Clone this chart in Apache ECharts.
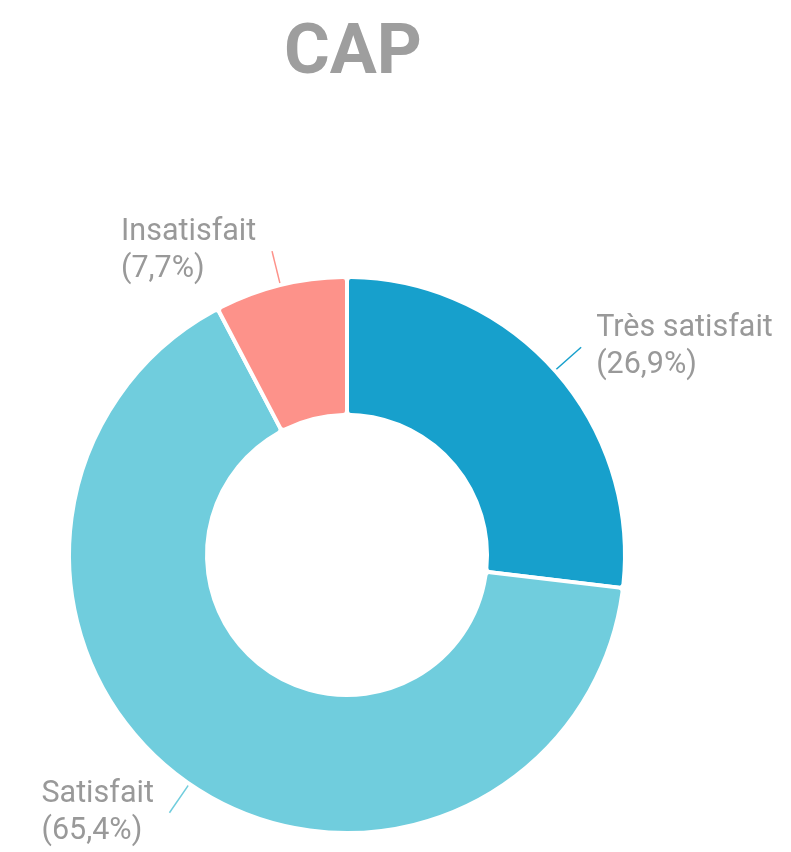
<!DOCTYPE html>
<html lang="fr">
<head>
    <meta charset="UTF-8">
    <title>CAP</title>
    <style type="text/css">
        *{
            margin: 0;
            padding: 0;
        }
        #main{
            width: 791px;
            height: 852px;
            position: absolute;
            background: #fff;
        }
    </style>
</head>
<body>
    <div id="main"></div>
    <script src="https://cdn.jsdelivr.net/npm/echarts@6/dist/echarts.min.js"></script>
    <script type="text/javascript">
        var myChart = echarts.init(document.getElementById('main'));

        // satisfaction CAP
        var categories = ['Très satisfait', 'Satisfait', 'Insatisfait'];
        var values = [26.9, 65.4, 7.7];
        var colors = ['#17a0cc', '#70cddd', '#fd928a'];

        var labelFont = 30.5;
        var ctx = document.createElement('canvas').getContext('2d');
        ctx.font = labelFont + 'px Roboto';

        function pct(v) {
            return '(' + v.toFixed(1).replace('.', ',') + '%)';
        }

        var pieData = categories.map(function (name, i) {
            // largeur du bloc pour aligner les deux lignes a gauche
            var w = Math.ceil(Math.max(ctx.measureText(name).width, ctx.measureText(pct(values[i])).width));
            return {
                name: name,
                value: values[i],
                itemStyle: { color: colors[i] },
                labelLine: { lineStyle: { color: colors[i] } },
                label: {
                    rich: {
                        t: { width: w, align: 'left', fontSize: labelFont, lineHeight: 37, color: '#999', fontFamily: 'Roboto' }
                    }
                }
            };
        });

        var option = {
            animation: false,
            title: {
                text: 'CAP',
                left: 348,
                textAlign: 'center',
                top: 15,
                textStyle: {
                    fontFamily: 'Roboto',
                    fontWeight: 'bold',
                    fontSize: 70,
                    color: '#9e9e9e'
                }
            },
            series: [{
                type: 'pie',
                center: [347, 555],
                radius: [140, 278],
                startAngle: 90,
                clockwise: true,
                data: pieData,
                itemStyle: {
                    borderColor: '#fff',
                    borderWidth: 4,
                    borderRadius: 4
                },
                label: {
                    show: true,
                    fontFamily: 'Roboto',
                    fontSize: labelFont,
                    lineHeight: 37,
                    color: '#999',
                    distanceToLabelLine: 15,
                    formatter: function (p) {
                        return '{t|' + p.name + '}\n{t|' + pct(p.value) + '}';
                    }
                },
                labelLine: {
                    show: true,
                    length: 35,
                    length2: 0,
                    lineStyle: { width: 1.5 }
                }
            }]
        };

        myChart.setOption(option);
    </script>
</body>
</html>
